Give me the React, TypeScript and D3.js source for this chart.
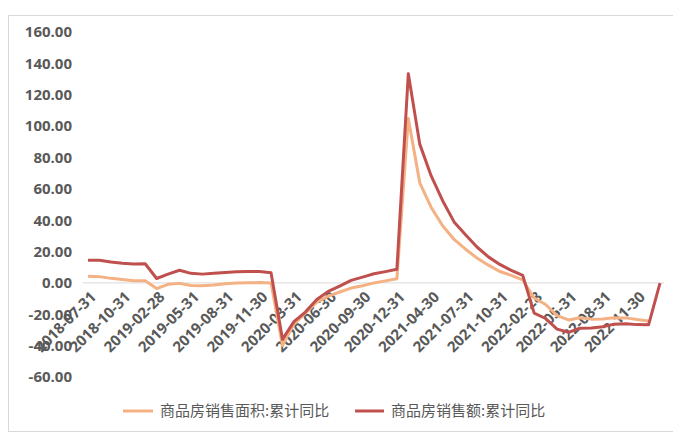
import React from "react";
import * as d3 from "d3";

const dates: string[] = [
  "2018-07-31","2018-08-31","2018-09-30","2018-10-31","2018-11-30","2018-12-31",
  "2019-02-28","2019-03-31","2019-04-30","2019-05-31","2019-06-30","2019-07-31","2019-08-31","2019-09-30","2019-10-31","2019-11-30","2019-12-31",
  "2020-02-29","2020-03-31","2020-04-30","2020-05-31","2020-06-30","2020-07-31","2020-08-31","2020-09-30","2020-10-31","2020-11-30","2020-12-31",
  "2021-02-28","2021-03-31","2021-04-30","2021-05-31","2021-06-30","2021-07-31","2021-08-31","2021-09-30","2021-10-31","2021-11-30","2021-12-31",
  "2022-02-28","2022-03-31","2022-04-30","2022-05-31","2022-06-30","2022-07-31","2022-08-31","2022-09-30","2022-10-31","2022-11-30","2022-12-31",
  "2023-02-28",
];

const areaYoY: (number | null)[] = [
  4.2, 4.0, 2.9, 2.2, 1.4, 1.3,
  -3.6, -0.9, -0.3, -1.6, -1.8, -1.3, -0.6, -0.1, 0.1, 0.2, -0.1,
  -39.9, -26.3, -19.3, -12.3, -8.4, -5.8, -3.3, -1.8, 0.0, 1.3, 2.6,
  104.9, 63.8, 48.1, 36.4, 27.7, 21.5, 15.9, 11.3, 7.3, 4.8, 1.9,
  -9.6, -13.8, -20.9, -23.6, -22.2, -23.1, -23.0, -22.2, -22.3, -23.3, -24.3,
  null,
];

const amountYoY: (number | null)[] = [
  14.5, 14.5, 13.3, 12.5, 12.1, 12.2,
  2.8, 5.6, 8.1, 6.1, 5.6, 6.2, 6.7, 7.1, 7.3, 7.3, 6.5,
  -35.9, -24.7, -18.6, -10.6, -5.4, -2.1, 1.6, 3.7, 5.8, 7.2, 8.7,
  133.4, 88.5, 68.2, 52.4, 38.9, 30.7, 22.9, 16.6, 11.8, 8.0, 4.8,
  -19.3, -22.7, -29.5, -31.5, -28.9, -28.8, -27.9, -26.3, -26.1, -26.6, -26.7,
  -0.1,
];

const yTicks: number[] = [-60, -40, -20, 0, 20, 40, 60, 80, 100, 120, 140, 160];
const seriesNames: string[] = ["商品房销售面积:累计同比", "商品房销售额:累计同比"];
const seriesColors: string[] = ["#F4B183", "#C0504D"];

const W = 673;
const H = 434;
const labelFont = "'Open Sans', 'Liberation Sans', sans-serif";
const cjkFont = "'Noto Sans CJK SC', sans-serif";

export default function App() {
  const x = d3.scalePoint<string>().domain(dates).range([88, 660]);
  const y = d3.scaleLinear().domain([-60, 160]).range([377, 32]);

  const makeLine = (vals: (number | null)[]) =>
    d3
      .line<number>()
      .defined((i) => vals[i] !== null)
      .x((i) => x(dates[i]) as number)
      .y((i) => y(vals[i] as number))(d3.range(dates.length)) || "";

  const labelIdx = d3.range(0, dates.length, 3);

  return (
    <div style={{ position: "absolute", left: 0, top: 0, width: W, height: H }}>
      <svg width={W} height={H} style={{ display: "block", background: "#fff" }}>
        <rect x={8.5} y={15.5} width={700} height={416} fill="none" stroke="#D9D9D9" strokeWidth={1} />
        {yTicks.map((t) => (
          <text
            key={t}
            x={72}
            y={y(t)}
            dy="0.36em"
            textAnchor="end"
            fontFamily={labelFont}
            fontWeight={700}
            fontSize={15}
            fill="#595959"
          >
            {t.toFixed(2)}
          </text>
        ))}
        <line x1={83} x2={664} y1={y(0)} y2={y(0)} stroke="#D9D9D9" strokeWidth={1} />
        {labelIdx.map((i) => {
          const px = (x(dates[i]) as number) + 9;
          const py = y(0) + 15;
          return (
            <text
              key={dates[i]}
              transform={`translate(${px},${py}) rotate(-45)`}
              textAnchor="end"
              fontFamily={labelFont}
              fontWeight={700}
              fontSize={15}
              fill="#595959"
            >
              {dates[i]}
            </text>
          );
        })}
        <path d={makeLine(areaYoY)} fill="none" stroke={seriesColors[0]} strokeWidth={3} strokeLinejoin="round" />
        <path d={makeLine(amountYoY)} fill="none" stroke={seriesColors[1]} strokeWidth={3} strokeLinejoin="round" />
        <g>
          <line x1={123} x2={153} y1={411} y2={411} stroke={seriesColors[0]} strokeWidth={3} />
          <text x={160} y={411} dy="0.36em" fontFamily={cjkFont} fontSize={15} fill="#595959">
            {seriesNames[0]}
          </text>
          <line x1={355} x2={384} y1={411} y2={411} stroke={seriesColors[1]} strokeWidth={3} />
          <text x={391} y={411} dy="0.36em" fontFamily={cjkFont} fontSize={15} fill="#595959">
            {seriesNames[1]}
          </text>
        </g>
      </svg>
    </div>
  );
}
